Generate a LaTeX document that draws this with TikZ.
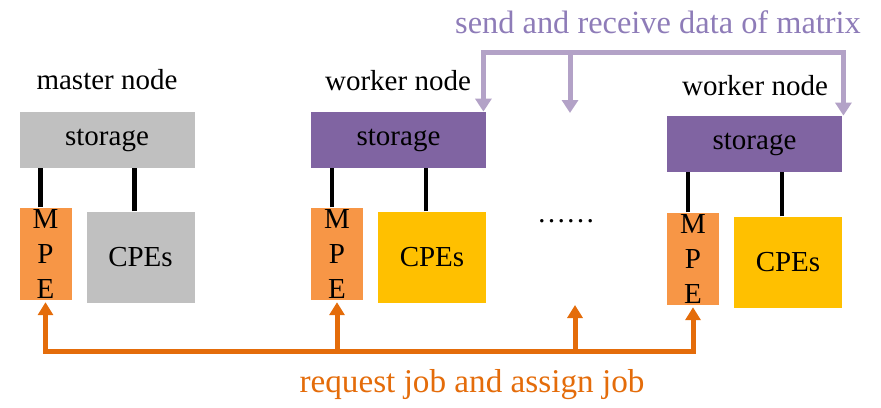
\documentclass[tikz,border=0pt]{standalone}
\usepackage{fontspec}
\setmainfont{Liberation Serif}
\usepackage{xcolor}
\usepackage{tikz}
\usetikzlibrary{arrows.meta, positioning}

\definecolor{storegray}{HTML}{C0C0C0}
\definecolor{storepurple}{HTML}{8064A2}
\definecolor{mpeorange}{HTML}{F79646}
\definecolor{cpeyellow}{HTML}{FFC000}
\definecolor{datapurple}{HTML}{B3A2C7}
\definecolor{datatext}{HTML}{8E7CB8}
\definecolor{joborange}{HTML}{E46C0A}

\begin{document}
\begin{tikzpicture}[
    x=0.5pt, y=-0.5pt,
    box/.style={rectangle, inner sep=0pt, align=center, font=\fontsize{14.5}{17.5}\selectfont},
    storebox/.style={box, minimum width=87.5pt, minimum height=28pt},
    mpebox/.style={box, fill=mpeorange, minimum width=26pt, minimum height=46pt},
    cpebox/.style={box, minimum width=54pt, minimum height=45.5pt},
    link/.style={line width=2.3pt},
    data/.style={draw=datapurple, line width=2.5pt, -{Triangle[width=8pt,length=6.5pt]}},
    job/.style={draw=joborange, line width=2.5pt, -{Triangle[width=7.5pt,length=6.5pt]}},
    label_style/.style={font=\fontsize{14.5}{17.5}\selectfont}
]
\useasboundingbox (0,0) rectangle (881,407);

% Master node
\node[label_style] (mlabel) at (107,80) {master node};
\node[storebox, fill=storegray] (ms) at (107,140) {storage};
\node[mpebox, below right=19.5pt and 0pt of ms.south west] (mm) {M\\P\\E};
\node[cpebox, fill=storegray, below left=21.5pt and 0pt of ms.south east] (mc) {CPEs};

% Worker nodes
\node[label_style] (w1label) at (398,81) {worker node};
\node[storebox, fill=storepurple] (w1s) at (398.5,140) {storage};
\node[mpebox, below right=19.5pt and 0pt of w1s.south west] (w1m) {M\\P\\E};
\node[cpebox, fill=cpeyellow, below left=21.5pt and 0pt of w1s.south east] (w1c) {CPEs};

\node[label_style] (w2label) at (755,86) {worker node};
\node[storebox, fill=storepurple] (w2s) at (754.5,144) {storage};
\node[mpebox, below right=20pt and 0pt of w2s.south west] (w2m) {M\\P\\E};
\node[cpebox, fill=cpeyellow, below left=22pt and 0pt of w2s.south east] (w2c) {CPEs};

\node[label_style, anchor=base] (dots) at (566,222) {\ldots\ldots};

% Storage links
\foreach \n in {m, w1, w2} {
  \draw[link] ([xshift=-2.5pt]\n m.north) -- ([xshift=-2.5pt]\n m.north |- \n s.south);
  \draw[link] ([xshift=-3pt]\n c.north) -- ([xshift=-3pt]\n c.north |- \n s.south);
}

% Data exchange
\coordinate (databus) at (570,52);
\coordinate (datagap) at (570,113);
\draw[data] (databus) -| ([xshift=-1.5pt]w1s.north east);
\draw[data] (databus) -| ([xshift=0.5pt]w2s.north east);
\draw[data] (databus) -- (datagap);
\node[font=\fontsize{16.2}{19}\selectfont, text=datatext] (datalabel) at (658,22) {send and receive data of matrix};

% Job requests
\coordinate (jobbus) at (575,351);
\coordinate (jobgap) at (575,305);
\draw[job, shorten >=1pt] (jobbus) -| (mm.south);
\draw[job, shorten >=1pt] (jobbus) -| (w1m.south);
\draw[job, shorten >=1pt] (jobbus) -| (w2m.south);
\draw[job] (jobbus) -- (jobgap);
\node[font=\fontsize{16.6}{20}\selectfont, text=joborange] (joblabel) at (472,385) {request job and assign job};

\end{tikzpicture}
\end{document}
